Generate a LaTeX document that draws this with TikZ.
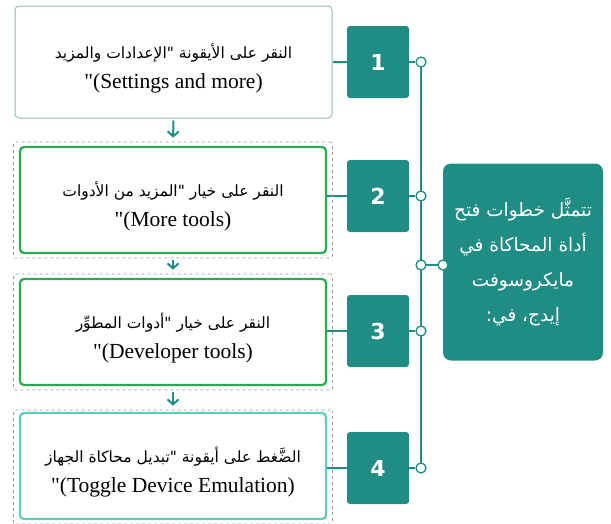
\documentclass[tikz,border=0pt]{standalone}
\usepackage{fontspec}
\setmainfont{Liberation Serif}[Ligatures=TeXOff]
\newfontfamily\arabicfont[Script=Arabic]{DejaVu Sans}
\newfontfamily\zifferfont{DejaVu Sans}
\TeXXeTstate=1
\usetikzlibrary{arrows.meta,backgrounds}

\definecolor{petrol}{RGB}{31,141,131}
\definecolor{gruen}{RGB}{44,168,82}
\definecolor{tuerkis}{RGB}{96,204,190}
\definecolor{randgrau}{RGB}{150,185,180}
\definecolor{strichgrau}{RGB}{150,160,160}

\newcommand{\arab}[1]{{\arabicfont\fontsize{15.5}{30}\selectfont\beginR #1\endR}}
\newcommand{\rtl}[1]{\beginR #1\endR}

\begin{document}
\begin{tikzpicture}
		[
		x=1pt, y=-1pt, font=\fontsize{21.5}{30}\selectfont,
		schritt/.style={draw=randgrau, fill=white, rounded corners=4pt, line width=1pt, align=center, inner sep=0pt, text height=57pt, minimum width=306pt, minimum height=106pt},
		aktiv/.style={schritt, draw=gruen, line width=2.2pt},
		rahmen/.style={draw=strichgrau, dashed, rounded corners=2pt, line width=0.6pt, minimum width=319pt, minimum height=116pt},
		nummer/.style={fill=petrol, rounded corners=3pt, minimum width=62pt, minimum height=72pt, text=white, font=\zifferfont\bfseries\fontsize{22}{22}\selectfont},
		punkt/.style={circle, draw=petrol, fill=white, line width=1.3pt, minimum size=10pt, inner sep=0pt},
		linie/.style={draw=petrol, line width=1.6pt},
		pfeil/.style={linie, line width=2pt, -{Straight Barb[length=5pt,width=11pt]}, shorten <=2pt, shorten >=4pt}
		]
		\useasboundingbox (0,0) rectangle (611,523);
		
		%gestrichelte Rahmen
		\node[rahmen] (d2) at (173,200) {};
		\node[rahmen] (d3) at (173,332) {};
		\node[rahmen, minimum height=114pt] (d4) at (173,467) {};
		
		%Schritte
		\node[schritt, minimum width=317pt, minimum height=112pt] (s1) at (173.5,62)
		{\arab{النقر على الأيقونة "الإعدادات والمزيد}\\"(Settings and more)};
		\node[aktiv] (s2) at (173,200)
		{\arab{النقر على خيار "المزيد من الأدوات}\\"(More tools)};
		\node[aktiv] (s3) at (173,332)
		{\arab{النقر على خيار "أدوات المطوِّر}\\"(Developer tools)};
		\node[schritt, draw=tuerkis, line width=2.2pt] (s4) at (173,466)
		{\arab{الضَّغط على أيقونة "تبديل محاكاة الجهاز}\\"(Toggle Device Emulation)};
		
		%Nummern
		\node[nummer] (n1) at (378,62) {1};
		\node[nummer] (n2) at (378,196) {2};
		\node[nummer] (n3) at (378,331) {3};
		\node[nummer] (n4) at (378,468) {4};
		
		%Punkte
		\node[punkt] (c1) at (421,62) {};
		\node[punkt] (c2) at (421,196) {};
		\node[punkt] (c3) at (421,331) {};
		\node[punkt] (c4) at (421,468) {};
		\node[punkt] (m1) at (421,265) {};
		
		%Infokasten rechts
		\node[fill=petrol, rounded corners=8pt, minimum width=160pt, minimum height=197pt, text=white, align=center, font=\arabicfont\fontsize{18.5}{35}\selectfont] (info) at (523,262)
		{\rtl{تتمثَّل خطوات فتح}\\\rtl{أداة المحاكاة في}\\\rtl{مايكروسوفت}\\\rtl{إيدج، في:}};
		\node[punkt] (m2) at (443,265) {};
		
		%Verbindungen
		\begin{scope}[on background layer]
		\foreach \i in {1,...,4}
		{
		\draw[linie] (n\i.west -| s\i.east) -- (n\i.west);
		\draw[linie] (n\i.east) -- (c\i.west);
		}
		\draw[linie] (c1.center) -- (c4.center);
		\draw[linie] (m1.center) -- (m2.center);
		\end{scope}
		
		%Pfeile
		\draw[pfeil] (s1.south) -- (d2.north);
		\draw[pfeil] (d2.south) -- (d3.north);
		\draw[pfeil] (d3.south) -- (d4.north);
	\end{tikzpicture}
\end{document}
